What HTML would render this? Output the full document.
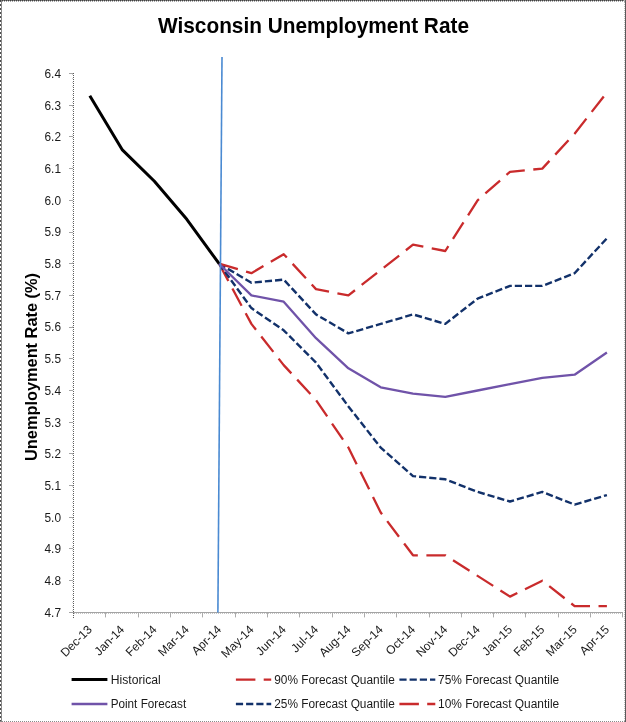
<!DOCTYPE html>
<html lang="en">
<head>
<meta charset="utf-8">
<title>Wisconsin Unemployment Rate</title>
<style>
html,body{margin:0;padding:0;background:#fff;}
body{width:626px;height:722px;overflow:hidden;}
svg{display:block;}
text{font-family:"Liberation Sans",sans-serif;fill:#1a1a1a;}
.b{font-weight:bold;fill:#000;}
</style>
</head>
<body>
<svg width="626" height="722" viewBox="0 0 626 722">
<rect x="0" y="0" width="626" height="722" fill="#ffffff"/>

<g id="frame" fill="none">
<line x1="0.5" y1="0" x2="0.5" y2="722" stroke="#4d4d4d" stroke-width="1" stroke-dasharray="2 2"/>
<line x1="1.5" y1="0" x2="1.5" y2="722" stroke="#8a8a8a" stroke-width="1"/>
<line x1="0" y1="0.5" x2="626" y2="0.5" stroke="#808080" stroke-width="1"/>
<line x1="0" y1="0.5" x2="626" y2="0.5" stroke="#404040" stroke-width="1" stroke-dasharray="1 1"/>
<line x1="2" y1="1.5" x2="626" y2="1.5" stroke="#a8a8a8" stroke-width="1" stroke-dasharray="1 1"/>
<line x1="625.5" y1="0" x2="625.5" y2="722" stroke="#5a5a5a" stroke-width="1"/>
<line x1="624.5" y1="0" x2="624.5" y2="722" stroke="#bdbdbd" stroke-width="1" stroke-dasharray="1 1"/>
<line x1="0" y1="721.5" x2="626" y2="721.5" stroke="#8a8a8a" stroke-width="1" stroke-dasharray="1 1"/>
</g>
<g id="axes" stroke-width="1" fill="none">
<line x1="73.5" y1="73" x2="73.5" y2="618" stroke="#5c5c5c" stroke-dasharray="1 1"/>
<line x1="72.5" y1="74" x2="72.5" y2="612" stroke="#cfcfcf" stroke-dasharray="1 3"/>
<line x1="69" y1="612.5" x2="623" y2="612.5" stroke="#a4a4a4"/>
<line x1="74" y1="613.5" x2="623" y2="613.5" stroke="#c4c4c4" stroke-dasharray="1 1"/>
<line x1="69" y1="73.5" x2="73" y2="73.5" stroke="#a6a6a6"/>
<line x1="69" y1="105.5" x2="73" y2="105.5" stroke="#a6a6a6"/>
<line x1="69" y1="136.5" x2="73" y2="136.5" stroke="#a6a6a6"/>
<line x1="69" y1="168.5" x2="73" y2="168.5" stroke="#a6a6a6"/>
<line x1="69" y1="200.5" x2="73" y2="200.5" stroke="#a6a6a6"/>
<line x1="69" y1="232.5" x2="73" y2="232.5" stroke="#a6a6a6"/>
<line x1="69" y1="263.5" x2="73" y2="263.5" stroke="#a6a6a6"/>
<line x1="69" y1="295.5" x2="73" y2="295.5" stroke="#a6a6a6"/>
<line x1="69" y1="327.5" x2="73" y2="327.5" stroke="#a6a6a6"/>
<line x1="69" y1="358.5" x2="73" y2="358.5" stroke="#a6a6a6"/>
<line x1="69" y1="390.5" x2="73" y2="390.5" stroke="#a6a6a6"/>
<line x1="69" y1="422.5" x2="73" y2="422.5" stroke="#a6a6a6"/>
<line x1="69" y1="453.5" x2="73" y2="453.5" stroke="#a6a6a6"/>
<line x1="69" y1="485.5" x2="73" y2="485.5" stroke="#a6a6a6"/>
<line x1="69" y1="517.5" x2="73" y2="517.5" stroke="#a6a6a6"/>
<line x1="69" y1="548.5" x2="73" y2="548.5" stroke="#a6a6a6"/>
<line x1="69" y1="580.5" x2="73" y2="580.5" stroke="#a6a6a6"/>
<line x1="105.5" y1="613" x2="105.5" y2="617.4" stroke="#ababab"/>
<line x1="138.5" y1="613" x2="138.5" y2="617.4" stroke="#ababab"/>
<line x1="170.5" y1="613" x2="170.5" y2="617.4" stroke="#ababab"/>
<line x1="202.5" y1="613" x2="202.5" y2="617.4" stroke="#ababab"/>
<line x1="235.5" y1="613" x2="235.5" y2="617.4" stroke="#ababab"/>
<line x1="267.5" y1="613" x2="267.5" y2="617.4" stroke="#ababab"/>
<line x1="299.5" y1="613" x2="299.5" y2="617.4" stroke="#ababab"/>
<line x1="332.5" y1="613" x2="332.5" y2="617.4" stroke="#ababab"/>
<line x1="364.5" y1="613" x2="364.5" y2="617.4" stroke="#ababab"/>
<line x1="396.5" y1="613" x2="396.5" y2="617.4" stroke="#ababab"/>
<line x1="429.5" y1="613" x2="429.5" y2="617.4" stroke="#ababab"/>
<line x1="461.5" y1="613" x2="461.5" y2="617.4" stroke="#ababab"/>
<line x1="493.5" y1="613" x2="493.5" y2="617.4" stroke="#ababab"/>
<line x1="525.5" y1="613" x2="525.5" y2="617.4" stroke="#ababab"/>
<line x1="558.5" y1="613" x2="558.5" y2="617.4" stroke="#ababab"/>
<line x1="590.5" y1="613" x2="590.5" y2="617.4" stroke="#ababab"/>
<line x1="622.5" y1="613" x2="622.5" y2="617.4" stroke="#ababab"/>
</g>
<g id="ylabels" font-size="12" text-anchor="end">
<text x="61" y="77.8" textLength="16.5" lengthAdjust="spacingAndGlyphs">6.4</text>
<text x="61" y="109.5" textLength="16.5" lengthAdjust="spacingAndGlyphs">6.3</text>
<text x="61" y="141.2" textLength="16.5" lengthAdjust="spacingAndGlyphs">6.2</text>
<text x="61" y="172.9" textLength="16.5" lengthAdjust="spacingAndGlyphs">6.1</text>
<text x="61" y="204.6" textLength="16.5" lengthAdjust="spacingAndGlyphs">6.0</text>
<text x="61" y="236.3" textLength="16.5" lengthAdjust="spacingAndGlyphs">5.9</text>
<text x="61" y="268.0" textLength="16.5" lengthAdjust="spacingAndGlyphs">5.8</text>
<text x="61" y="299.7" textLength="16.5" lengthAdjust="spacingAndGlyphs">5.7</text>
<text x="61" y="331.4" textLength="16.5" lengthAdjust="spacingAndGlyphs">5.6</text>
<text x="61" y="363.1" textLength="16.5" lengthAdjust="spacingAndGlyphs">5.5</text>
<text x="61" y="394.8" textLength="16.5" lengthAdjust="spacingAndGlyphs">5.4</text>
<text x="61" y="426.5" textLength="16.5" lengthAdjust="spacingAndGlyphs">5.3</text>
<text x="61" y="458.2" textLength="16.5" lengthAdjust="spacingAndGlyphs">5.2</text>
<text x="61" y="489.9" textLength="16.5" lengthAdjust="spacingAndGlyphs">5.1</text>
<text x="61" y="521.6" textLength="16.5" lengthAdjust="spacingAndGlyphs">5.0</text>
<text x="61" y="553.3" textLength="16.5" lengthAdjust="spacingAndGlyphs">4.9</text>
<text x="61" y="585.0" textLength="16.5" lengthAdjust="spacingAndGlyphs">4.8</text>
<text x="61" y="616.7" textLength="16.5" lengthAdjust="spacingAndGlyphs">4.7</text>
</g>
<g id="xlabels" font-size="12" text-anchor="end">
<text transform="translate(92.8 630.2) rotate(-45)" x="0" y="0">Dec-13</text>
<text transform="translate(125.1 630.2) rotate(-45)" x="0" y="0">Jan-14</text>
<text transform="translate(157.4 630.2) rotate(-45)" x="0" y="0">Feb-14</text>
<text transform="translate(189.8 630.2) rotate(-45)" x="0" y="0">Mar-14</text>
<text transform="translate(222.1 630.2) rotate(-45)" x="0" y="0">Apr-14</text>
<text transform="translate(254.4 630.2) rotate(-45)" x="0" y="0">May-14</text>
<text transform="translate(286.7 630.2) rotate(-45)" x="0" y="0">Jun-14</text>
<text transform="translate(319.0 630.2) rotate(-45)" x="0" y="0">Jul-14</text>
<text transform="translate(351.4 630.2) rotate(-45)" x="0" y="0">Aug-14</text>
<text transform="translate(383.7 630.2) rotate(-45)" x="0" y="0">Sep-14</text>
<text transform="translate(416.0 630.2) rotate(-45)" x="0" y="0">Oct-14</text>
<text transform="translate(448.3 630.2) rotate(-45)" x="0" y="0">Nov-14</text>
<text transform="translate(480.6 630.2) rotate(-45)" x="0" y="0">Dec-14</text>
<text transform="translate(513.0 630.2) rotate(-45)" x="0" y="0">Jan-15</text>
<text transform="translate(545.3 630.2) rotate(-45)" x="0" y="0">Feb-15</text>
<text transform="translate(577.6 630.2) rotate(-45)" x="0" y="0">Mar-15</text>
<text transform="translate(609.9 630.2) rotate(-45)" x="0" y="0">Apr-15</text>
</g>
<text class="b" x="158" y="33.3" font-size="22" textLength="311" lengthAdjust="spacingAndGlyphs">Wisconsin Unemployment Rate</text>
<text class="b" transform="translate(37.4 461) rotate(-90)" x="0" y="0" font-size="16" textLength="188" lengthAdjust="spacingAndGlyphs">Unemployment Rate (%)</text>
<g id="series" fill="none" stroke-linejoin="round">
<polyline points="219.1,263.7 251.4,323.9 283.7,365.1 316.0,400.0 348.4,447.6 380.7,512.5 413.0,555.3 445.3,555.3 477.6,575.9 510.0,596.6 542.3,580.7 574.6,606.1 606.9,606.1" stroke="#c92b2c" stroke-width="2.3" stroke-dasharray="19.55 8.55"/>
<polyline points="219.1,263.7 251.4,308.1 283.7,330.3 316.0,362.6 348.4,406.4 380.7,447.6 413.0,476.1 445.3,479.3 477.6,491.9 510.0,501.5 542.3,491.9 574.6,504.6 606.9,495.1" stroke="#12316a" stroke-width="2.4" stroke-dasharray="7.2 3.0"/>
<polyline points="219.1,263.7 251.4,282.7 283.7,279.6 316.0,314.4 348.4,333.4 380.7,323.9 413.0,314.4 445.3,323.9 477.6,298.6 510.0,285.9 542.3,285.9 574.6,273.2 606.9,238.3" stroke="#12316a" stroke-width="2.4" stroke-dasharray="7.2 3.0"/>
<polyline points="219.1,263.7 251.4,273.2 283.7,254.2 316.0,289.1 348.4,295.4 380.7,270.0 413.0,244.7 445.3,251.0 477.6,200.3 510.0,171.8 542.3,168.6 574.6,133.7 606.9,92.5" stroke="#c92b2c" stroke-width="2.3" stroke-dasharray="19.55 8.55"/>
<polyline points="219.1,263.7 251.4,295.4 283.7,301.7 316.0,338.2 348.4,368.3 380.7,387.3 413.0,393.7 445.3,396.8 477.6,390.5 510.0,384.2 542.3,377.8 574.6,374.7 606.9,352.5" stroke="#7053a9" stroke-width="2.3"/>
<polyline points="89.8,95.7 122.1,149.6 154.4,181.3 186.8,219.3 219.1,263.7" stroke="#000" stroke-width="3"/>
</g>
<line x1="222.0" y1="57" x2="217.9" y2="612.4" stroke="#4a8ad2" stroke-width="1.6"/>
<g id="legend" fill="none">
<line x1="71.6" y1="679.6" x2="107.4" y2="679.6" stroke="#000" stroke-width="3"/>
<line x1="71.6" y1="704" x2="107.4" y2="704" stroke="#7053a9" stroke-width="2.3"/>
<line x1="235.9" y1="679.6" x2="271.2" y2="679.6" stroke="#c92b2c" stroke-width="2.3" stroke-dasharray="19.5 8.3"/>
<line x1="235.9" y1="704" x2="271.2" y2="704" stroke="#12316a" stroke-width="2.4" stroke-dasharray="7.2 3.0"/>
<line x1="399.4" y1="679.6" x2="435.3" y2="679.6" stroke="#12316a" stroke-width="2.4" stroke-dasharray="7.2 3.0"/>
<line x1="399.4" y1="704" x2="435.3" y2="704" stroke="#c92b2c" stroke-width="2.3" stroke-dasharray="19.5 8.3"/>
</g>
<g id="legendtext" font-size="12">
<text x="110.7" y="683.7" textLength="50" lengthAdjust="spacingAndGlyphs">Historical</text>
<text x="110.7" y="707.7" textLength="75.5" lengthAdjust="spacingAndGlyphs">Point Forecast</text>
<text x="274.2" y="683.7" textLength="120.6" lengthAdjust="spacingAndGlyphs">90% Forecast Quantile</text>
<text x="274.2" y="707.7" textLength="120.6" lengthAdjust="spacingAndGlyphs">25% Forecast Quantile</text>
<text x="438" y="683.7" textLength="121.2" lengthAdjust="spacingAndGlyphs">75% Forecast Quantile</text>
<text x="438" y="707.7" textLength="121.2" lengthAdjust="spacingAndGlyphs">10% Forecast Quantile</text>
</g>
</svg>
</body>
</html>
